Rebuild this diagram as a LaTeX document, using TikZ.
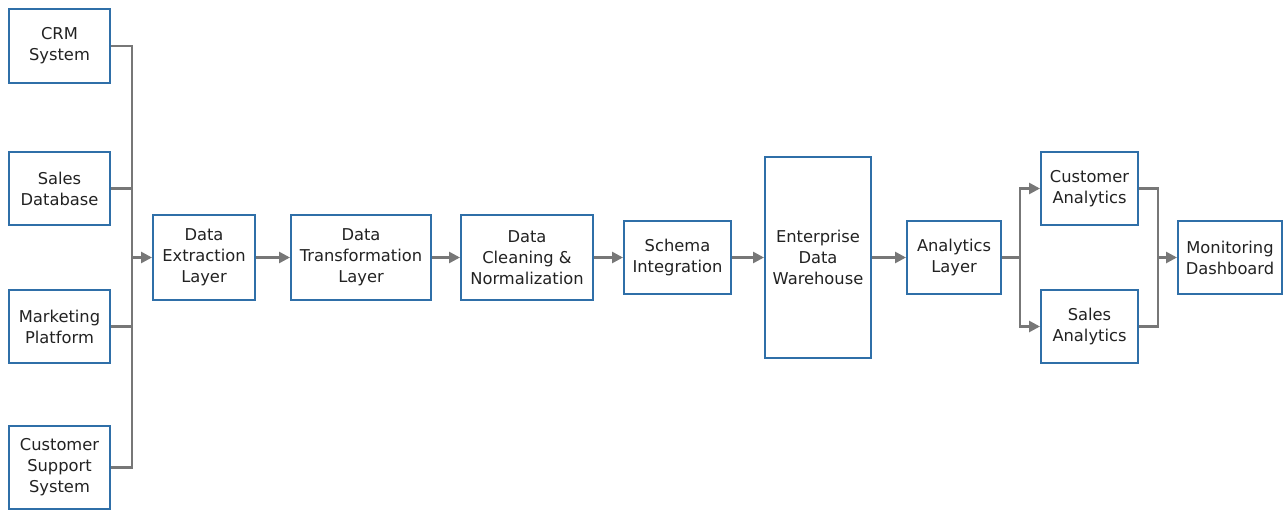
\documentclass[tikz,border=0pt]{standalone}
\usepackage{fontspec}
\setmainfont{DejaVu Sans}
\usetikzlibrary{arrows.meta}
\definecolor{boxblue}{HTML}{2F6FA8}
\definecolor{linegray}{HTML}{777777}
\definecolor{ink}{HTML}{222222}
\begin{document}
\begin{tikzpicture}[x=1pt,y=-1pt,
  stage/.style={draw=boxblue, line width=2pt, fill=white, align=center, text=ink,
    font=\fontsize{16.3}{21}\selectfont, inner sep=0pt},
  link/.style={draw=linegray, line width=2.6pt},
  flow/.style={link, -{Triangle[length=11pt,width=11pt]}}]
\useasboundingbox (0,0) rectangle (1283,511);
\fill[white] (0,0) rectangle (1283,511);

% sources
\node[stage, minimum width=101pt, minimum height=74pt] (crm) at (59.5,46) {CRM\\System};
\node[stage, minimum width=101pt, minimum height=73pt] (sdb) at (59.5,188.5) {Sales\\Database};
\node[stage, minimum width=101pt, minimum height=73pt] (mkt) at (59.5,326.5) {Marketing\\Platform};
\node[stage, minimum width=101pt, minimum height=83pt] (css) at (59.5,467.5) {Customer\\Support\\System};

% pipeline
\node[stage, minimum width=102pt, minimum height=85pt] (ext) at (204,257.5) {Data\\Extraction\\Layer};
\node[stage, minimum width=140pt, minimum height=85pt] (trf) at (361,257.5) {Data\\Transformation\\Layer};
\node[stage, minimum width=132pt, minimum height=85pt] (cln) at (527,257.5) {Data\\Cleaning \&\\Normalization};
\node[stage, minimum width=107pt, minimum height=73pt] (sch) at (677.5,257.5) {Schema\\Integration};
\node[stage, minimum width=106pt, minimum height=201pt] (edw) at (818,257.5) {Enterprise\\Data\\Warehouse};
\node[stage, minimum width=94pt, minimum height=73pt] (anl) at (954,257.5) {Analytics\\Layer};
\node[stage, minimum width=97pt, minimum height=73pt] (cua) at (1089.5,188.5) {Customer\\Analytics};
\node[stage, minimum width=97pt, minimum height=73pt] (saa) at (1089.5,326.5) {Sales\\Analytics};
\node[stage, minimum width=104pt, minimum height=73pt] (mon) at (1230,257.5) {Monitoring\\Dashboard};

% junction points
\coordinate (join) at (132,257.5);
\coordinate (split) at (1020,257.5);
\coordinate (merge) at (1158,257.5);

% sources feed one bus
\draw[link] (crm.east) -| (join);
\draw[link] (sdb.east) -| (join);
\draw[link] (mkt.east) -| (join);
\draw[link] (css.east) -| (join);
\draw[flow] (join) -- (ext.west);

% main chain
\draw[flow] (ext) -- (trf);
\draw[flow] (trf) -- (cln);
\draw[flow] (cln) -- (sch);
\draw[flow] (sch) -- (edw);
\draw[flow] (edw) -- (anl);

% analytics branches
\draw[link] (anl.east) -- (split);
\draw[flow] (split) |- (cua.west);
\draw[flow] (split) |- (saa.west);
\draw[link] (cua.east) -| (merge);
\draw[link] (saa.east) -| (merge);
\draw[flow] (merge) -- (mon.west);
\end{tikzpicture}
\end{document}
